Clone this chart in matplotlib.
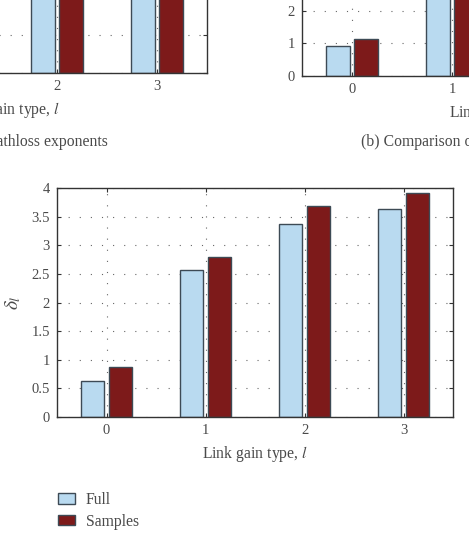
import numpy as np
import matplotlib.pyplot as plt

plt.rcParams['font.family'] = ['Liberation Serif', 'DejaVu Serif']
plt.rcParams['mathtext.fontset'] = 'stix'
plt.rcParams['xtick.direction'] = 'in'
plt.rcParams['ytick.direction'] = 'in'

# data
link_types = [0, 1, 2, 3]
full_delta = [0.63, 2.56, 3.37, 3.63]
samples_delta = [0.87, 2.80, 3.69, 3.92]
# panels (a) and (b) are only partly visible in the crop
full_alpha = [2.1, 3.0, 3.4, 3.5]
samples_alpha = [2.4, 3.2, 3.6, 3.7]
full_sigma = [0.92, 3.9, 4.6, 5.0]
samples_sigma = [1.13, 4.3, 5.1, 5.4]
series_names = ['Full', 'Samples']

c_full = '#b9daf0'
c_samp = '#7d1a1a'
c_edge = '#3d4a55'
c_text = '#4a4a4a'
c_axis = '#333333'

W, H = 469, 537
fig = plt.figure(figsize=(W / 100, H / 100), dpi=100)


def px_axes(left, top, right, bottom):
    return fig.add_axes([left / W, 1 - bottom / H, (right - left) / W, (bottom - top) / H])


def style_axes(ax, full, samp, ymax, ystep, xlabel, fs=10.5):
    x = np.array(link_types)
    w = 0.235
    ax.bar(x - 0.14, full, w, color=c_full, edgecolor=c_edge, linewidth=1.0, label=series_names[0])
    ax.bar(x + 0.14, samp, w, color=c_samp, edgecolor=c_edge, linewidth=1.0, label=series_names[1])
    ax.set_xlim(-0.5, 3.5)
    ax.set_ylim(0, ymax)
    ax.set_xticks(x)
    ax.set_yticks(np.arange(0, ymax + 1e-9, ystep))
    ax.set_yticklabels(['%g' % v for v in np.arange(0, ymax + 1e-9, ystep)])
    ax.set_axisbelow(True)
    ax.grid(True, linestyle=(0, (1, 9)), color='#666666', linewidth=0.8)
    ax.tick_params(top=True, right=True, length=3, width=0.8, colors=c_axis,
                   labelcolor=c_text, labelsize=fs, pad=5)
    for s in ax.spines.values():
        s.set_color(c_axis)
        s.set_linewidth(1.0)
    ax.set_xlabel(xlabel, fontsize=11.3, color=c_text, labelpad=5)


# (a) partly cut off at top-left
ax_a = px_axes(-193, -156, 207, 73)
style_axes(ax_a, full_alpha, samples_alpha, 6, 1, r'Link gain type, $l$')
fig.text(108 / W, 1 - 142 / H, '(a) Comparison of pathloss exponents',
         ha='right', va='center', fontsize=11.3, color=c_text)

# (b) partly cut off at top-right
ax_b = px_axes(302, -153, 702, 76)
style_axes(ax_b, full_sigma, samples_sigma, 7, 1, r'Link gain type, $l$')
fig.text(361 / W, 1 - 142 / H, '(b) Comparison of shadowing standard deviations',
         ha='left', va='center', fontsize=11.3, color=c_text)

# (c) main panel
ax = px_axes(57, 188, 453, 417)
style_axes(ax, full_delta, samples_delta, 4, 0.5, r'Link gain type, $l$')
ax.set_ylabel(r'$\delta_l$', fontsize=14, color=c_text, labelpad=6)

handles, labels = ax.get_legend_handles_labels()
fig.legend(handles, labels, loc='upper left', bbox_to_anchor=(44 / W, 1 - 478 / H),
           frameon=False, fontsize=11.3, handlelength=1.05, handleheight=0.65,
           handletextpad=0.7, labelspacing=0.35, labelcolor=c_text)

fig.savefig('out.png', dpi=100)
